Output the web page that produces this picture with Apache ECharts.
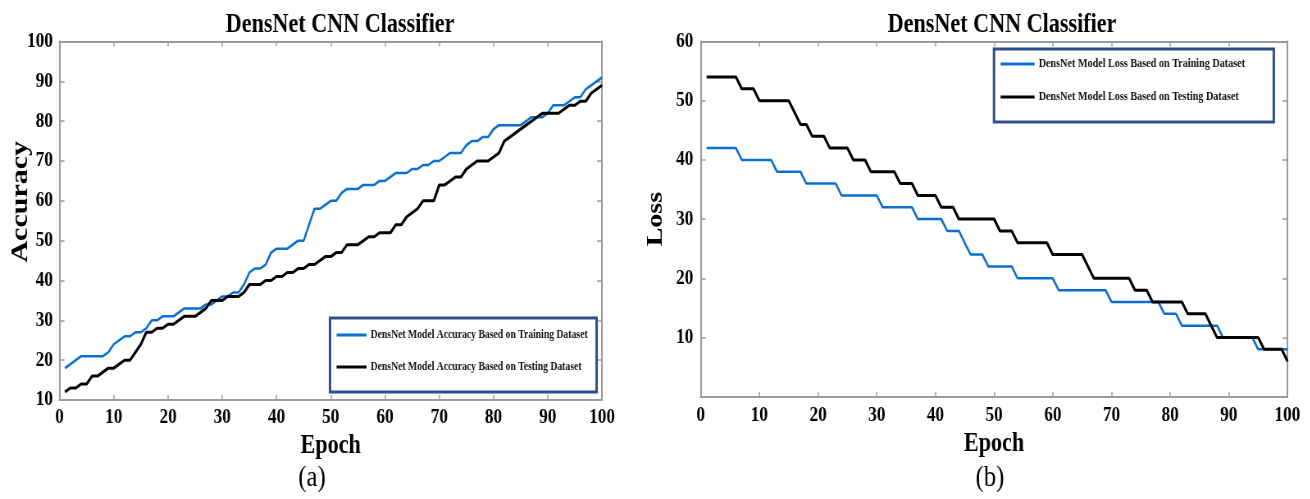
<!DOCTYPE html>
<html>
<head>
<meta charset="utf-8">
<script src="https://cdn.jsdelivr.net/npm/echarts@6/dist/echarts.min.js"></script>
<style>
  html, body { margin: 0; padding: 0; background: #fff; overflow: hidden; }
  /* Figure is typeset wide and then narrowed to the condensed print look */
  #chart { width: 1598px; height: 499px; transform: scaleX(0.82); transform-origin: 0 0; }
</style>
</head>
<body>
<div id="chart"></div>
<script>
// ---- data ----
const epochs = [1,2,3,4,5,6,7,8,9,10,11,12,13,14,15,16,17,18,19,20,
  21,22,23,24,25,26,27,28,29,30,31,32,33,34,35,36,37,38,39,40,
  41,42,43,44,45,46,47,48,49,50,51,52,53,54,55,56,57,58,59,60,
  61,62,63,64,65,66,67,68,69,70,71,72,73,74,75,76,77,78,79,80,
  81,82,83,84,85,86,87,88,89,90,91,92,93,94,95,96,97,98,99,100];

const accuracyTraining = [18,19,20,21,21,21,21,21,22,24,
  25,26,26,27,27,28,30,30,31,31,
  31,32,33,33,33,33,34,34,35,36,
  36,37,37,39,42,43,43,44,47,48,
  48,48,49,50,50,54,58,58,59,60,
  60,62,63,63,63,64,64,64,65,65,
  66,67,67,67,68,68,69,69,70,70,
  71,72,72,72,74,75,75,76,76,78,
  79,79,79,79,79,80,81,81,81,82,
  84,84,84,85,86,86,88,89,90,91];

const accuracyTesting = [12,13,13,14,14,16,16,17,18,18,
  19,20,20,22,24,27,27,28,28,29,
  29,30,31,31,31,32,33,35,35,35,
  36,36,36,37,39,39,39,40,40,41,
  41,42,42,43,43,44,44,45,46,46,
  47,47,49,49,49,50,51,51,52,52,
  52,54,54,56,57,58,60,60,60,64,
  64,65,66,66,68,69,70,70,70,71,
  72,75,76,77,78,79,80,81,82,82,
  82,82,83,84,84,85,85,87,88,89];

const lossTraining = [42,42,42,42,42,42,40,40,40,40,
  40,40,38,38,38,38,38,36,36,36,
  36,36,36,34,34,34,34,34,34,34,
  32,32,32,32,32,32,30,30,30,30,
  30,28,28,28,26,24,24,24,22,22,
  22,22,22,20,20,20,20,20,20,20,
  18,18,18,18,18,18,18,18,18,16,
  16,16,16,16,16,16,16,16,14,14,
  14,12,12,12,12,12,12,12,10,10,
  10,10,10,10,8,8,8,8,8,8];

const lossTesting = [54,54,54,54,54,54,52,52,52,50,
  50,50,50,50,50,48,46,46,44,44,
  44,42,42,42,42,40,40,40,38,38,
  38,38,38,36,36,36,34,34,34,34,
  32,32,32,30,30,30,30,30,30,30,
  28,28,28,26,26,26,26,26,26,24,
  24,24,24,24,24,22,20,20,20,20,
  20,20,20,18,18,18,16,16,16,16,
  16,16,14,14,14,14,12,10,10,10,
  10,10,10,10,10,8,8,8,8,6];

const chartTitle = 'DensNet CNN Classifier';
const accNames = ['DensNet Model Accuracy Based on Training Dataset',
                  'DensNet Model Accuracy Based on Testing Dataset'];
const lossNames = ['DensNet Model Loss Based on Training Dataset',
                   'DensNet Model Loss Based on Testing Dataset'];
const panelTags = ['(a)', '(b)'];

// ---- layout helpers ----
const SX = 0.82;                 // horizontal condensing applied by CSS
const ux = v => v / SX;          // screen x -> layout x
const SERIF = '"Liberation Serif", "Times New Roman", serif';
const FRAME = '#9a9a9a';
const BLUE = '#0a6fd2';
const BLACK = '#000000';
const TICK_FONT = 21;

const pairs = (xs, ys) => xs.map((x, i) => [x, ys[i]]);

function baseAxis(extra) {
  return Object.assign({
    type: 'value',
    splitLine: { show: false },
    axisLine: { show: true, onZero: false, lineStyle: { color: FRAME, width: 2 } },
    axisTick: { show: true, inside: true, lineStyle: { color: FRAME, width: 1.5 } },
    axisLabel: { show: true, color: '#000', fontFamily: SERIF, fontWeight: 'bold', fontSize: TICK_FONT },
    nameTextStyle: { color: '#000', fontFamily: SERIF, fontWeight: 'bold', fontSize: 27 }
  }, extra);
}

const tickX = { show: true, inside: true, length: 5, lineStyle: { color: FRAME, width: 1.5 } };
const tickY = { show: true, inside: true, length: ux(5), lineStyle: { color: FRAME, width: 1.5 } };
const labelStyle = m => ({ margin: m, color: '#000', fontFamily: SERIF, fontWeight: 'bold', fontSize: TICK_FONT });

const grid0 = { left: ux(59.5), top: 41.5, width: ux(602) - ux(59.5), height: 358.5 };
const grid1 = { left: ux(700.7), top: 41.5, width: ux(1287.5) - ux(700.7), height: 355.2 };

const xAxes = [
  baseAxis({ gridIndex: 0, min: 0, max: 100, interval: 10, position: 'bottom',
    name: 'Epoch', nameLocation: 'middle', nameGap: 32,
    axisTick: tickX, axisLabel: labelStyle(7) }),
  baseAxis({ gridIndex: 0, min: 0, max: 100, interval: 10, position: 'top',
    axisTick: tickX, axisLabel: { show: false } }),
  baseAxis({ gridIndex: 1, min: 0, max: 100, interval: 10, position: 'bottom',
    name: 'Epoch', nameLocation: 'middle', nameGap: 33,
    axisTick: tickX, axisLabel: labelStyle(8) }),
  baseAxis({ gridIndex: 1, min: 0, max: 100, interval: 10, position: 'top',
    axisTick: tickX, axisLabel: { show: false } })
];

const yAxes = [
  baseAxis({ gridIndex: 0, min: 10, max: 100, interval: 10, position: 'left',
    name: 'Accuracy', nameLocation: 'middle', nameGap: 32, nameMoveOverlap: false,
    nameTextStyle: { color: '#000', fontFamily: SERIF, fontWeight: 'bold', fontSize: 30, padding: [0, 0, 0, 38] },
    axisTick: tickY, axisLabel: labelStyle(8) }),
  baseAxis({ gridIndex: 0, min: 10, max: 100, interval: 10, position: 'right',
    axisTick: tickY, axisLabel: { show: false } }),
  baseAxis({ gridIndex: 1, min: 0, max: 60, interval: 10, position: 'left',
    name: 'Loss', nameLocation: 'middle', nameGap: 41, nameMoveOverlap: false,
    nameTextStyle: { color: '#000', fontFamily: SERIF, fontWeight: 'bold', fontSize: 28 },
    axisTick: tickY,
    axisLabel: Object.assign(labelStyle(9), { formatter: v => (v === 0 ? '' : String(v)) }) }),
  baseAxis({ gridIndex: 1, min: 0, max: 60, interval: 10, position: 'right',
    axisTick: tickY, axisLabel: { show: false } })
];

function lineSeries(name, data, xi, yi, color, width) {
  return {
    name, type: 'line', xAxisIndex: xi, yAxisIndex: yi,
    data, showSymbol: false, symbol: 'none', animation: false,
    lineStyle: { color, width }, itemStyle: { color }
  };
}

const legendText = size => ({ color: '#111', fontFamily: SERIF, fontWeight: 'bold', fontSize: size });
const titleStyle = { color: '#000', fontFamily: SERIF, fontWeight: 'bold', fontSize: 27 };

const option = {
  backgroundColor: '#ffffff',
  animation: false,
  title: [
    { text: chartTitle, left: ux(336), top: 7, textAlign: 'center', textStyle: titleStyle },
    { text: chartTitle, left: ux(998), top: 7, textAlign: 'center', textStyle: titleStyle }
  ],
  grid: [grid0, grid1],
  xAxis: xAxes,
  yAxis: yAxes,
  legend: [
    { data: accNames, orient: 'vertical', left: ux(330), top: 318,
      icon: 'rect', itemWidth: ux(30), itemHeight: 3, itemGap: 20,
      padding: [11, 11, 19, 8], borderColor: '#2f4e8c', borderWidth: 3,
      backgroundColor: '#ffffff', selectedMode: false, textStyle: legendText(11.8) },
    { data: lossNames, orient: 'vertical', left: ux(994), top: 49,
      icon: 'rect', itemWidth: ux(34), itemHeight: 3, itemGap: 21,
      padding: [9, 35, 19, 8], borderColor: '#2f4e8c', borderWidth: 3,
      backgroundColor: '#ffffff', selectedMode: false, textStyle: legendText(12.4) }
  ],
  graphic: [
    { type: 'text', x: ux(312), y: 478, style: { text: panelTags[0], fill: '#000',
      font: 'normal 30px ' + SERIF, textAlign: 'center', textVerticalAlign: 'middle' } },
    { type: 'text', x: ux(990), y: 478, style: { text: panelTags[1], fill: '#000',
      font: 'normal 30px ' + SERIF, textAlign: 'center', textVerticalAlign: 'middle' } }
  ],
  series: [
    lineSeries(accNames[0], pairs(epochs, accuracyTraining), 0, 0, BLUE, 2.5),
    lineSeries(accNames[1], pairs(epochs, accuracyTesting), 0, 0, BLACK, 3),
    lineSeries(lossNames[0], pairs(epochs, lossTraining), 2, 2, BLUE, 2.5),
    lineSeries(lossNames[1], pairs(epochs, lossTesting), 2, 2, BLACK, 3)
  ]
};

const chart = echarts.init(document.getElementById('chart'), null, { renderer: 'canvas' });
chart.setOption(option);
</script>
</body>
</html>
